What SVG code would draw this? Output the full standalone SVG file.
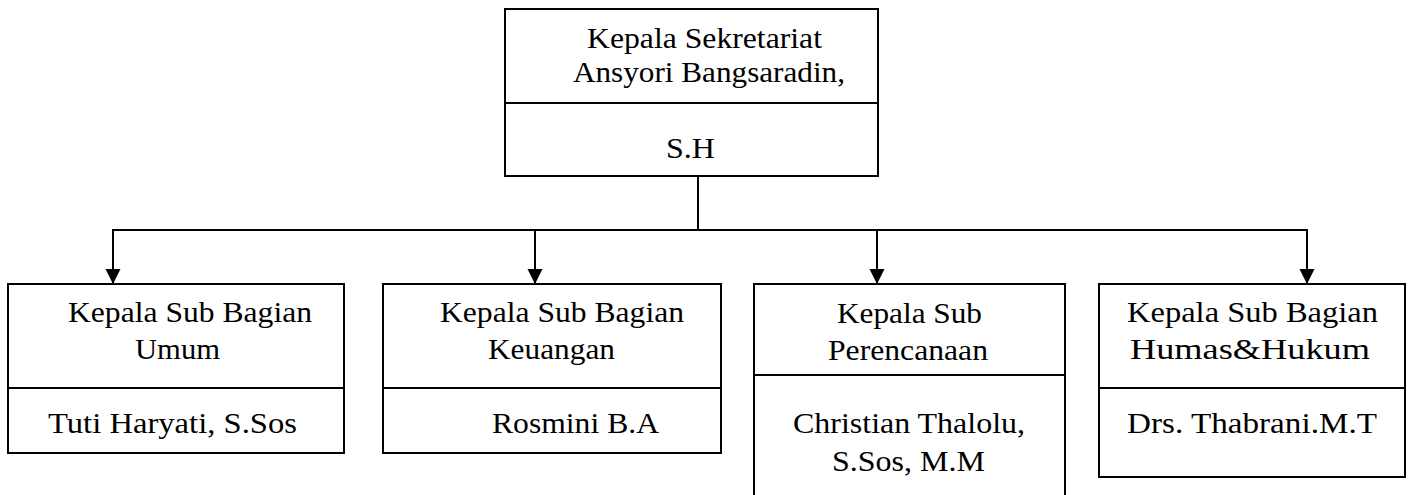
<svg xmlns="http://www.w3.org/2000/svg" width="1409" height="495" viewBox="0 0 1409 495">
<style>
.box{fill:#fff;stroke:#000;stroke-width:2}
.div{stroke:#000;stroke-width:2}
.t{font-family:"Liberation Serif",serif;font-size:29px;fill:#000}
.c{fill:none;stroke:#000;stroke-width:2}
</style>
<defs>
<marker id="arr" markerUnits="userSpaceOnUse" markerWidth="16" markerHeight="16" viewBox="0 0 16 16" refX="15" refY="8" orient="auto">
<path d="M0,0.5 L15,8 L0,15.5 Z" fill="#000"/>
</marker>
</defs>
<rect width="1409" height="495" fill="#fff"/>
<g id="connectors">
<line class="c" x1="698" y1="176" x2="698" y2="230"/>
<line class="c" x1="112" y1="230" x2="1308" y2="230"/>
<line class="c" x1="113" y1="230" x2="113" y2="284" marker-end="url(#arr)"/>
<line class="c" x1="535" y1="230" x2="535" y2="284" marker-end="url(#arr)"/>
<line class="c" x1="877" y1="230" x2="877" y2="284" marker-end="url(#arr)"/>
<line class="c" x1="1307" y1="230" x2="1307" y2="284" marker-end="url(#arr)"/>
</g>
<g id="kepala-sekretariat">
<rect class="box" x="505" y="9" width="373" height="167"/>
<line class="div" x1="505" y1="103" x2="878" y2="103"/>
<text class="t" x="587" y="47.5" textLength="235" lengthAdjust="spacingAndGlyphs">Kepala Sekretariat</text>
<text class="t" x="573" y="82" textLength="272" lengthAdjust="spacingAndGlyphs">Ansyori Bangsaradin,</text>
<text class="t" x="666" y="158" textLength="49" lengthAdjust="spacingAndGlyphs">S.H</text>
</g>
<g id="sub-umum">
<rect class="box" x="8" y="284" width="336" height="169"/>
<line class="div" x1="8" y1="388" x2="344" y2="388"/>
<text class="t" x="68" y="322" textLength="244" lengthAdjust="spacingAndGlyphs">Kepala Sub Bagian</text>
<text class="t" x="135" y="359" textLength="85" lengthAdjust="spacingAndGlyphs">Umum</text>
<text class="t" x="48" y="433" textLength="249" lengthAdjust="spacingAndGlyphs">Tuti Haryati, S.Sos</text>
</g>
<g id="sub-keuangan">
<rect class="box" x="383" y="284" width="338" height="169"/>
<line class="div" x1="383" y1="388" x2="721" y2="388"/>
<text class="t" x="440" y="322" textLength="244" lengthAdjust="spacingAndGlyphs">Kepala Sub Bagian</text>
<text class="t" x="488" y="359" textLength="127" lengthAdjust="spacingAndGlyphs">Keuangan</text>
<text class="t" x="492" y="433" textLength="167" lengthAdjust="spacingAndGlyphs">Rosmini B.A</text>
</g>
<g id="sub-perencanaan">
<rect class="box" x="754" y="284" width="311" height="220"/>
<line class="div" x1="754" y1="375" x2="1065" y2="375"/>
<text class="t" x="837" y="323" textLength="145" lengthAdjust="spacingAndGlyphs">Kepala Sub</text>
<text class="t" x="828" y="360" textLength="160" lengthAdjust="spacingAndGlyphs">Perencanaan</text>
<text class="t" x="793" y="433" textLength="232" lengthAdjust="spacingAndGlyphs">Christian Thalolu,</text>
<text class="t" x="832" y="471" textLength="153" lengthAdjust="spacingAndGlyphs">S.Sos, M.M</text>
</g>
<g id="sub-humas-hukum">
<rect class="box" x="1099" y="284" width="306" height="193"/>
<line class="div" x1="1099" y1="388" x2="1405" y2="388"/>
<text class="t" x="1127" y="322" textLength="251" lengthAdjust="spacingAndGlyphs">Kepala Sub Bagian</text>
<text class="t" x="1130" y="359" textLength="240" lengthAdjust="spacingAndGlyphs">Humas&amp;Hukum</text>
<text class="t" x="1127" y="433" textLength="250" lengthAdjust="spacingAndGlyphs">Drs. Thabrani.M.T</text>
</g>
</svg>
